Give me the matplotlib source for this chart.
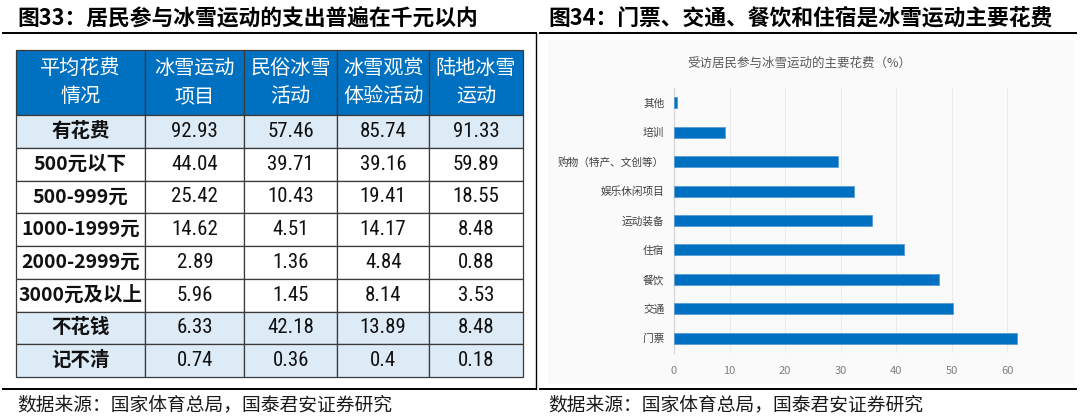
import matplotlib
matplotlib.use("Agg")
import matplotlib.pyplot as plt
from matplotlib import font_manager
from matplotlib.lines import Line2D
from matplotlib.patches import Rectangle

plt.rcParams["font.family"] = ["Noto Sans CJK SC", "DejaVu Sans"]

W, H = 1080, 416

# --- table data (图33) ---
col_labels = ["平均花费\n情况", "冰雪运动\n项目", "民俗冰雪\n活动", "冰雪观赏\n体验活动", "陆地冰雪\n运动"]
row_labels = ["有花费", "500元以下", "500-999元", "1000-1999元", "2000-2999元",
              "3000元及以上", "不花钱", "记不清"]
snow_sport = [92.93, 44.04, 25.42, 14.62, 2.89, 5.96, 6.33, 0.74]
folk_snow = [57.46, 39.71, 10.43, 4.51, 1.36, 1.45, 42.18, 0.36]
snow_viewing = [85.74, 39.16, 19.41, 14.17, 4.84, 8.14, 13.89, 0.4]
land_snow = [91.33, 59.89, 18.55, 8.48, 0.88, 3.53, 8.48, 0.18]
shaded_rows = ["有花费", "不花钱", "记不清"]

# --- bar data (图34), top to bottom ---
spend_items = ["其他", "培训", "购物（特产、文创等）", "娱乐休闲项目", "运动装备",
               "住宿", "餐饮", "交通", "门票"]
spend_pct = [0.5, 9.2, 29.5, 32.4, 35.6, 41.5, 47.8, 50.2, 61.7]

BLUE = "#0070C0"
LIGHT = "#DDEBF7"

# the numbers in the table use a narrow face; take whatever narrow font exists
installed = {f.name for f in font_manager.fontManager.ttflist}
narrow = [n for n in ["Liberation Sans Narrow", "Roboto Condensed", "DejaVu Sans Condensed",
                      "Open Sans Condensed", "Liberation Sans"] if n in installed]
NUM_FONT = narrow[:1] + ["DejaVu Sans"]
NUM_SIZE = 15 if narrow and narrow[0] != "Liberation Sans" else 13.5


def box(x0, y0, x1, y1):
    # pixel box -> figure fraction [left, bottom, width, height]
    return [x0 / W, 1 - y1 / H, (x1 - x0) / W, (y1 - y0) / H]


def hline(x0, x1, y, lw):
    return Line2D([x0 / W, x1 / W], [1 - y / H, 1 - y / H], color="black", lw=lw)


def vline(x, y0, y1, lw):
    return Line2D([x / W, x / W], [1 - y0 / H, 1 - y1 / H], color="black", lw=lw)


fig = plt.figure(figsize=(W / 100, H / 100), dpi=100)

# faint chart background on the right panel
fig.add_artist(Rectangle((548 / W, 1 - 384 / H), (1074 - 548) / W, (384 - 40) / H,
                         transform=fig.transFigure, facecolor="#fafafa",
                         edgecolor="none", zorder=0))

# frame lines
for ln in [hline(3, 536, 33, 1.4), hline(3, 536, 389, 1.4), vline(536, 33, 389, 1.0),
           hline(540, 1076, 33, 1.4), hline(540, 1076, 389, 1.4)]:
    fig.add_artist(ln)

# titles and sources
fig.text(17 / W, 1 - 18 / H, "图33：居民参与冰雪运动的支出普遍在千元以内",
         fontsize=15.7, weight="bold", va="center", ha="left")
fig.text(548 / W, 1 - 18 / H, "图34：门票、交通、餐饮和住宿是冰雪运动主要花费",
         fontsize=15.7, weight="bold", va="center", ha="left")
for x in (17, 548):
    fig.text(x / W, 1 - 405 / H, "数据来源：国家体育总局，国泰君安证券研究",
             fontsize=13.5, va="center", ha="left", color="#1a1a1a")

# ---------------- table ----------------
ax_t = fig.add_axes(box(15.5, 50, 523, 377))
ax_t.axis("off")
cell_text = [[lab, f"{a:g}", f"{b:g}", f"{c:g}", f"{d:g}"]
             for lab, a, b, c, d in zip(row_labels, snow_sport, folk_snow, snow_viewing, land_snow)]
col_w = [130, 99, 93, 92, 94]
tbl = ax_t.table(cellText=cell_text, colLabels=col_labels,
                 colWidths=[w / sum(col_w) for w in col_w],
                 cellLoc="center", bbox=[0, 0, 1, 1])
tbl.auto_set_font_size(False)
for (r, c), cell in tbl.get_celld().items():
    cell.set_edgecolor("#3a3a3a")
    cell.set_linewidth(0.9)
    txt = cell.get_text()
    if r == 0:
        cell.set_height(65)
        cell.set_facecolor(BLUE)
        txt.set_color("white")
        txt.set_fontsize(14.5)
        txt.set_linespacing(1.45)
    else:
        cell.set_height(32.75)
        label = row_labels[r - 1]
        cell.set_facecolor(LIGHT if label in shaded_rows else "white")
        if c == 0:
            txt.set_fontsize(14)
            txt.set_fontweight("bold")
        else:
            txt.set_fontsize(NUM_SIZE)
            txt.set_fontfamily(NUM_FONT)
        txt.set_color("#111111")

# ---------------- bar chart ----------------
fig.text(799 / W, 1 - 63 / H, "受访居民参与冰雪运动的主要花费（%）",
         fontsize=9, color="#595959", ha="center", va="center")

ax = fig.add_axes(box(674, 88, 1021, 353))
ax.set_facecolor("none")
ypos = list(range(len(spend_items)))
ax.barh(ypos, spend_pct, height=0.37, color=BLUE, edgecolor="#5b9bd5",
        linewidth=0.6, zorder=3)
ax.set_yticks(ypos, spend_items)
ax.set_ylim(len(spend_items) - 0.5, -0.5)
ax.set_xlim(0, 62.5)
ax.set_xticks(range(0, 70, 10))
ax.grid(axis="x", color="#ebebeb", lw=0.8, zorder=0)
for side in ("top", "right", "bottom"):
    ax.spines[side].set_visible(False)
ax.spines["left"].set_color("#d9d9d9")
ax.spines["left"].set_linewidth(1.0)
ax.tick_params(axis="y", length=0, pad=7, labelsize=7.7, labelcolor="#404040")
ax.tick_params(axis="x", length=0, pad=9, labelsize=8, labelcolor="#7f7f7f")

fig.savefig("out.png", dpi=100)
